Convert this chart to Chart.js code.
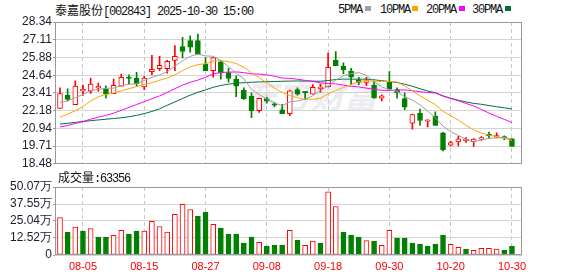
<!DOCTYPE html>
<html>
<head>
<meta charset="utf-8">
<script src="https://cdn.jsdelivr.net/npm/chart.js@4.4.0/dist/chart.umd.min.js"></script>
<style>
  body { margin: 0; background: #fff; }
  #wrap { position: relative; width: 578px; height: 276px; overflow: hidden; font-family: "Liberation Mono", "Noto Sans CJK SC", monospace; color: #111; }
  .txt { position: absolute; font-size: 12px; line-height: 14px; letter-spacing: -1.2px; white-space: nowrap; }
  .cjk { font-family: "Noto Sans CJK SC"; letter-spacing: 0; }
  .sq { position: absolute; top: 6px; width: 6px; height: 5px; }
  #wm { position: absolute; left: 245px; top: 70px; font-family: "Noto Sans CJK SC"; font-weight: bold; font-style: italic; font-size: 33px; color: #ececf0; white-space: nowrap; }
  canvas { position: absolute; left: 0; }
</style>
</head>
<body>
<div id="wrap">
  <div id="wm">东方财富</div>
  <div class="txt" style="left:55px;top:3px"><span class="cjk">泰嘉股份</span>[002843] 2025-10-30 15:00</div>
  <div class="txt" style="left:338px;top:3px">5PMA</div><div class="sq" style="left:365px;background:#a0a0a0"></div>
  <div class="txt" style="left:380px;top:3px">10PMA</div><div class="sq" style="left:412px;background:#ffa500"></div>
  <div class="txt" style="left:426px;top:3px">20PMA</div><div class="sq" style="left:459px;background:#ff00ff"></div>
  <div class="txt" style="left:472px;top:3px">30PMA</div><div class="sq" style="left:505px;background:#006f3c"></div>
  <canvas id="priceChart" width="578" height="172" style="top:0"></canvas>
  <div class="txt" style="left:58px;top:170px"><span class="cjk">成交量</span>:63356</div>
  <canvas id="volChart" width="578" height="98" style="top:178px"></canvas>
</div>
<script>
// trading days shown, 07-31 .. 10-30
var dates = ['07-31', '08-01', '08-04', '08-05', '08-06', '08-07', '08-08', '08-11', '08-12', '08-13',
  '08-14', '08-15', '08-18', '08-19', '08-20', '08-21', '08-22', '08-25', '08-26', '08-27',
  '08-28', '08-29', '09-01', '09-02', '09-03', '09-04', '09-05', '09-08', '09-09', '09-10',
  '09-11', '09-12', '09-15', '09-16', '09-17', '09-18', '09-19', '09-22', '09-23', '09-24',
  '09-25', '09-26', '09-29', '09-30', '10-09', '10-10', '10-13', '10-14', '10-15', '10-16',
  '10-17', '10-20', '10-21', '10-22', '10-23', '10-24', '10-27', '10-28', '10-29', '10-30'];

var openP = [22.33, 23.24, 22.60, 23.55, 23.53, 23.76, 23.67, 23.35, 23.87, 24.48,
  24.44, 23.82, 24.89, 25.09, 25.09, 25.66, 26.63, 27.04, 27.04, 25.39,
  24.96, 25.57, 24.82, 24.37, 23.60, 23.19, 22.17, 23.01, 22.62, 22.24,
  21.97, 23.64, 23.48, 23.33, 23.71, 23.82, 25.68, 25.27, 24.93, 24.32,
  24.14, 23.94, 23.05, 24.16, 23.64, 23.01, 21.31, 21.99, 21.44, 21.78,
  20.63, 19.77, 20.00, 20.09, 20.02, 20.20, 20.47, 20.33, 20.31, 20.22];
var highP = [23.76, 23.69, 24.25, 23.96, 24.44, 24.10, 23.91, 24.37, 24.71, 24.66,
  24.84, 24.57, 26.02, 25.95, 25.68, 26.70, 27.27, 27.38, 27.50, 25.86,
  25.86, 25.68, 25.12, 24.60, 23.76, 23.42, 23.05, 23.12, 22.74, 22.62,
  23.60, 23.76, 23.51, 23.98, 24.03, 26.18, 26.29, 25.50, 25.12, 24.50,
  24.50, 24.21, 23.28, 24.89, 23.76, 23.42, 21.94, 22.28, 21.53, 22.10,
  20.67, 20.06, 20.40, 20.31, 20.24, 20.38, 20.69, 20.63, 20.42, 20.24];
var lowP = [22.33, 22.85, 22.60, 23.24, 23.37, 23.53, 23.05, 23.35, 23.87, 24.05,
  23.87, 23.64, 24.66, 24.96, 24.78, 24.96, 25.84, 26.25, 26.09, 24.96,
  24.51, 24.37, 24.16, 23.14, 22.96, 21.69, 22.06, 22.69, 22.46, 21.97,
  21.83, 23.26, 22.96, 23.33, 23.46, 23.82, 25.30, 24.73, 23.98, 23.98,
  23.91, 23.05, 22.85, 23.60, 23.05, 22.24, 20.88, 21.15, 21.04, 21.15,
  19.38, 19.73, 19.73, 19.97, 19.68, 20.11, 20.24, 20.29, 20.15, 19.68];
var closeP = [23.37, 22.96, 23.89, 23.60, 24.03, 23.80, 23.33, 23.94, 24.50, 24.41,
  24.05, 24.44, 25.05, 25.32, 25.61, 25.95, 26.29, 26.59, 26.09, 24.96,
  25.86, 24.82, 24.41, 23.87, 23.01, 22.17, 23.03, 22.83, 22.55, 21.97,
  23.55, 23.33, 23.42, 23.80, 23.76, 25.18, 25.30, 25.00, 24.50, 24.14,
  24.19, 23.05, 23.21, 23.67, 23.42, 22.42, 21.90, 21.49, 21.47, 21.15,
  19.45, 19.95, 20.22, 20.13, 20.20, 20.24, 20.42, 20.44, 20.27, 19.68];

// volume, in 万
var volume = [27.6, 16.85, 20.5, 17.6, 19.5, 13.2, 13.2, 14.4, 18.1, 15.4,
  17.6, 17.6, 24.7, 21.0, 16.85, 30.0, 37.4, 33.5, 28.6, 31.5,
  22.5, 19.8, 15.4, 15.4, 8.8, 13.2, 9.3, 6.6, 7.3, 7.3,
  18.1, 11.0, 7.1, 10.3, 8.8, 46.6, 35.7, 16.85, 14.7, 13.2,
  10.7, 10.3, 7.1, 18.1, 12.5, 12.5, 8.8, 8.1, 6.6, 8.1,
  14.7, 7.8, 5.6, 4.4, 3.4, 4.9, 4.9, 4.4, 3.7, 6.34];

var ma5 = [22.74, 22.85, 23.08, 23.30, 23.57, 23.66, 23.73, 23.74, 23.92, 24.00,
  24.05, 24.27, 24.49, 24.65, 24.89, 25.27, 25.64, 25.95, 26.11, 25.98,
  25.96, 25.66, 25.23, 24.78, 24.39, 23.66, 23.30, 22.98, 22.72, 22.51,
  22.79, 22.85, 22.96, 23.21, 23.57, 23.90, 24.29, 24.61, 24.75, 24.82,
  24.63, 24.18, 23.82, 23.65, 23.51, 23.15, 22.92, 22.58, 22.14, 21.69,
  21.10, 20.71, 20.45, 20.18, 19.99, 20.15, 20.24, 20.28, 20.31, 20.21];
var ma10 = [21.72, 21.94, 22.17, 22.46, 22.85, 23.14, 23.30, 23.40, 23.55, 23.70,
  23.85, 24.00, 24.12, 24.29, 24.45, 24.66, 24.96, 25.22, 25.38, 25.44,
  25.62, 25.65, 25.59, 25.45, 25.19, 24.81, 24.48, 24.11, 23.75, 23.45,
  23.22, 23.07, 22.97, 22.97, 23.04, 23.34, 23.57, 23.79, 23.98, 24.20,
  24.26, 24.23, 24.21, 24.20, 24.17, 23.89, 23.55, 23.20, 22.90, 22.60,
  22.13, 21.82, 21.52, 21.16, 20.84, 20.62, 20.47, 20.37, 20.25, 20.10];
var ma20 = [21.04, 21.15, 21.28, 21.42, 21.58, 21.72, 21.85, 22.00, 22.20, 22.40,
  22.60, 22.80, 23.00, 23.20, 23.45, 23.70, 23.95, 24.15, 24.30, 24.50,
  24.73, 24.83, 24.85, 24.87, 24.82, 24.73, 24.72, 24.66, 24.57, 24.44,
  24.42, 24.36, 24.28, 24.21, 24.11, 24.07, 24.03, 23.95, 23.87, 23.83,
  23.74, 23.65, 23.59, 23.58, 23.60, 23.62, 23.56, 23.49, 23.44, 23.40,
  23.19, 23.02, 22.86, 22.68, 22.50, 22.26, 22.01, 21.78, 21.57, 21.35];
var ma30 = [21.24, 21.30, 21.36, 21.42, 21.48, 21.53, 21.58, 21.63, 21.68, 21.75,
  21.85, 21.97, 22.12, 22.30, 22.55, 22.78, 23.02, 23.25, 23.45, 23.62,
  23.80, 23.93, 24.02, 24.08, 24.12, 24.15, 24.17, 24.19, 24.20, 24.22,
  24.23, 24.24, 24.23, 24.23, 24.22, 24.27, 24.34, 24.37, 24.37, 24.36,
  24.37, 24.32, 24.26, 24.20, 24.13, 24.01, 23.87, 23.70, 23.54, 23.42,
  23.20, 23.04, 22.90, 22.78, 22.68, 22.62, 22.53, 22.45, 22.37, 22.30];

var priceTicks = [18.48, 19.71, 20.94, 22.18, 23.41, 24.64, 25.88, 27.11, 28.34];
var volTicks = [0, 12.52, 25.04, 37.55, 50.07];
var tickDates = ['08-05', '08-15', '08-27', '09-08', '09-18', '09-30', '10-20', '10-30'];

(function () {
  var UP = '#ff0000';
  var DOWN = '#008000';
  var tickIdx = tickDates.map(function (d) { return dates.indexOf(d); });

  Chart.defaults.font.family = 'Liberation Sans';
  Chart.defaults.animation = false;

  // gray frame round the plot area
  var framePlugin = {
    id: 'frame',
    afterDatasetsDraw: function (chart) {
      var a = chart.chartArea;
      var ctx = chart.ctx;
      ctx.save();
      ctx.strokeStyle = '#999';
      ctx.lineWidth = 1;
      ctx.strokeRect(Math.round(a.left) + 0.5, Math.round(a.top) + 0.5,
        Math.round(a.right - a.left) - 1, Math.round(a.bottom - a.top) - 1);
      ctx.restore();
    }
  };

  function xAxis(showLabels) {
    return {
      type: 'linear',
      min: -0.65,
      max: 60.31,
      offset: false,
      afterBuildTicks: function (s) {
        s.ticks = tickIdx.map(function (v) { return { value: v }; });
      },
      grid: { color: '#c8c8c8', drawTicks: false, offset: false },
      border: { display: false, dash: [4, 3] },
      ticks: {
        display: showLabels,
        autoSkip: false,
        maxRotation: 0,
        padding: 5,
        color: '#ff0000',
        font: { size: 11 },
        callback: function (v) { return dates[v]; }
      },
      afterFit: function (s) { s.height = showLabels ? 21 : 0; }
    };
  }

  function yAxis(ticks, fmt) {
    return {
      min: ticks[0],
      max: ticks[ticks.length - 1],
      afterBuildTicks: function (s) {
        s.ticks = ticks.map(function (v) { return { value: v }; });
      },
      grid: { color: '#d4d4d4', tickLength: 2, tickColor: '#999' },
      border: { display: false },
      ticks: { autoSkip: false, padding: 1, color: '#1c1c2c', font: { size: 12 }, callback: fmt },
      afterFit: function (s) { s.width = 55; }
    };
  }

  function maLine(values, color) {
    return {
      type: 'line',
      data: values.map(function (v, i) { return { x: i, y: v }; }),
      borderColor: color,
      borderWidth: 1,
      pointRadius: 0,
      tension: 0,
      order: 0
    };
  }

  var isUp = openP.map(function (o, i) { return closeP[i] >= o; });
  var volUp = closeP.map(function (c, i) { return i === 0 || c >= closeP[i - 1]; });

  new Chart(document.getElementById('priceChart'), {
    type: 'bar',
    data: {
      datasets: [
        maLine(ma5, '#a0a0a0'),
        maLine(ma10, '#ffa500'),
        maLine(ma20, '#ff00ff'),
        maLine(ma30, '#006f3c'),
        {
          data: openP.map(function (o, i) {
            return { x: i, y: [Math.min(o, closeP[i]), Math.max(o, closeP[i])] };
          }),
          backgroundColor: isUp.map(function (u) { return u ? '#ffffff' : DOWN; }),
          borderColor: isUp.map(function (u) { return u ? UP : DOWN; }),
          borderWidth: 1,
          borderSkipped: false,
          barThickness: 5,
          minBarLength: 1.5,
          grouped: false,
          order: 1
        },
        {
          data: lowP.map(function (l, i) { return { x: i, y: [l, highP[i]] }; }),
          backgroundColor: isUp.map(function (u) { return u ? UP : DOWN; }),
          borderWidth: 0,
          barThickness: 1,
          grouped: false,
          order: 2
        }
      ]
    },
    options: {
      responsive: false,
      layout: { padding: { top: 22, right: 56, bottom: 7, left: 0 } },
      plugins: { legend: { display: false }, tooltip: { enabled: false } },
      scales: {
        x: xAxis(false),
        y: yAxis(priceTicks, function (v) { return v.toFixed(2); })
      }
    },
    plugins: [framePlugin]
  });

  new Chart(document.getElementById('volChart'), {
    type: 'bar',
    data: {
      datasets: [{
        data: volume.map(function (v, i) { return { x: i, y: v }; }),
        backgroundColor: volUp.map(function (u) { return u ? '#ffffff' : DOWN; }),
        borderColor: volUp.map(function (u) { return u ? UP : DOWN; }),
        borderWidth: 1,
        borderSkipped: false,
        barThickness: 5,
        grouped: false
      }]
    },
    options: {
      responsive: false,
      layout: { padding: { top: 9, right: 56, bottom: 0, left: 0 } },
      plugins: { legend: { display: false }, tooltip: { enabled: false } },
      scales: {
        x: xAxis(true),
        y: yAxis(volTicks, function (v) { return v === 0 ? '0' : v.toFixed(2) + '万'; })
      }
    },
    plugins: [framePlugin]
  });
})();
</script>
</body>
</html>
